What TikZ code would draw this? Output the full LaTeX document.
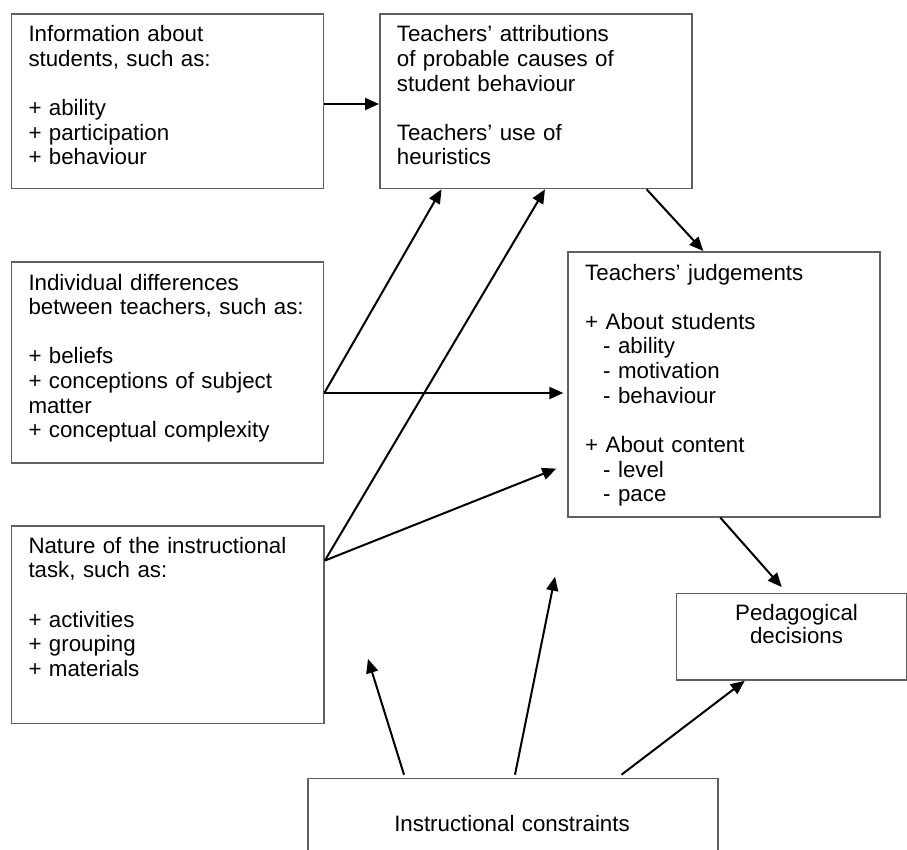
\documentclass[tikz,border=0pt]{standalone}
\usepackage{fontspec}
\setmainfont{Liberation Sans}
\usetikzlibrary{arrows.meta,calc}

\definecolor{boxgray}{HTML}{606060}

\begin{document}
\begin{tikzpicture}[x=1pt, y=-1pt,
  box/.style={draw=boxgray, line width=1.6pt, inner sep=0pt, anchor=north west},
  txt/.style={anchor=base west, text width=300pt, align=left, inner sep=0pt,
    font=\fontsize{22.3}{24.65}\selectfont},
  ctxt/.style={anchor=base, text width=220pt, align=center, inner sep=0pt,
    font=\fontsize{22.3}{23.4}\selectfont},
  arr/.style={draw=black, line width=2pt, -{Triangle[length=14pt, width=12pt]}}]

\useasboundingbox (0,0) rectangle (907,849);

% boxes
\node[box, minimum width=312.2pt, minimum height=174.4pt] (A) at (10.5,13.3) {};
\node[box, minimum width=312pt,   minimum height=174.4pt] (B) at (379,13.3) {};
\node[box, minimum width=312.2pt, minimum height=201.3pt] (C) at (10.5,261) {};
\node[box, minimum width=312pt,   minimum height=265pt]   (D) at (567.3,251) {};
\node[box, minimum width=312.8pt, minimum height=197.7pt] (E) at (10.5,525) {};
\node[box, minimum width=230pt,   minimum height=86.5pt]  (F) at (675.7,592.7) {};
\node[box, minimum width=410pt,   minimum height=110pt]   (G) at (307,777.7) {};

% box texts
\node[txt] (At) at (28.3,41.7) {Information about\\ students, such as:\\[24.65pt]
  + ability\\ + participation\\ + behaviour};
\node[txt] (Bt) at (396.7,41.7) {Teachers’ attributions\\ of probable causes of\\ student behaviour\\[24.65pt]
  Teachers’ use of\\ heuristics};
\node[txt] (Ct) at (28.3,290) {Individual differences\\ between teachers, such as:\\[24.65pt]
  + beliefs\\ + conceptions of subject\\ matter\\ + conceptual complexity};
\node[txt] (Dt) at (585,280) {Teachers’ judgements\\[24.65pt]
  + About students\\ \hspace*{18pt}- ability\\ \hspace*{18pt}- motivation\\ \hspace*{18pt}- behaviour\\[24.65pt]
  + About content\\ \hspace*{18pt}- level\\ \hspace*{18pt}- pace};
\node[txt] (Et) at (28.3,553.3) {Nature of the instructional\\ task, such as:\\[24.65pt]
  + activities\\ + grouping\\ + materials};
\node[ctxt] (Ft) at (796.5,620) {Pedagogical\\ decisions};
\node[ctxt, text width=400pt] (Gt) at (512,831.7) {Instructional constraints};

% connector end points
\coordinate (cC) at ([yshift=-132pt]C.north east);
\coordinate (cE) at ([yshift=-35.5pt]E.north east);
\coordinate (g1) at ($(G.north west)+(97,-3)$);
\coordinate (g2) at ($(G.north west)+(208,-3)$);
\coordinate (g3) at ($(G.north west)+(314.5,-3)$);
\coordinate (e1) at ($(G.north west)+(61,-118.7)$);
\coordinate (e2) at ($(G.north west)+(248,-201)$);

% connectors
\draw[arr] ([yshift=-90.7pt]A.north east) -- ([yshift=-90.7pt]B.north west);
\draw[arr] (cC) -- ([xshift=62.5pt]B.south west);
\draw[arr] (cC) -- ($(cC -| D.west)+(-4,0)$);
\draw[arr] (cE) -- ([xshift=166pt]B.south west);
\draw[arr] (cE) -- ($(D.south west)+(-11,-49)$);
\draw[arr] ([xshift=-46pt]B.south east) -- ([xshift=136pt]D.north west);
\draw[arr] ([xshift=153pt]D.south west) -- ($(F.north west)+(106,-5.7)$);
\draw[arr] (g1) -- (e1);
\draw[arr] (g2) -- (e2);
\draw[arr] (g3) -- ([xshift=69pt]F.south west);

\end{tikzpicture}
\end{document}
